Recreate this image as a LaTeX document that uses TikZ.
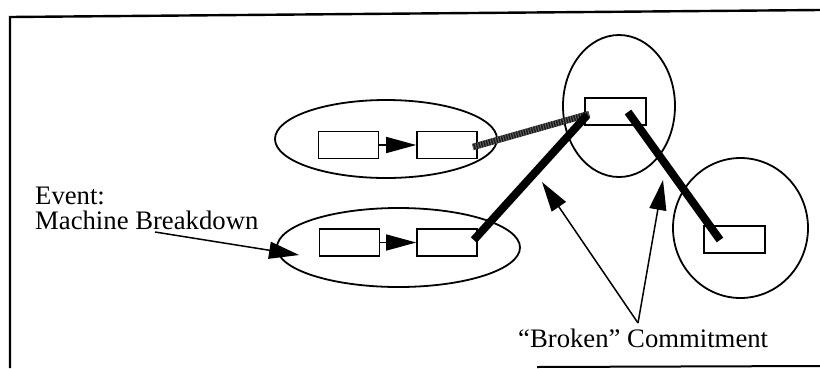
\documentclass[tikz,border=0pt]{standalone}
\usepackage{fontspec}
\setmainfont{Liberation Serif}
\usetikzlibrary{shapes.geometric,arrows.meta}
\begin{document}
\begin{tikzpicture}[x=1pt,y=-1pt,
  group/.style={draw, ellipse, line width=1.8pt, inner sep=0pt},
  task/.style={draw, rectangle, line width=1.6pt, fill=white,
    minimum width=60pt, minimum height=27pt, inner sep=0pt},
  prec/.style={line width=1.5pt, -{Triangle[length=30pt,width=16pt]}},
  commit/.style={line width=8pt, line cap=butt},
  broken/.style={line width=6.5pt, line cap=butt, black!90},
  brokentex/.style={line width=6.5pt, line cap=butt, white, opacity=0.3,
    dash pattern=on 1pt off 1.6pt},
  callout/.style={line width=1.5pt, -{Triangle[length=30pt,width=17pt]}},
  lbl/.style={font=\fontsize{26.7}{24}\selectfont, inner sep=0pt},
  frame/.style={line width=2.4pt}
]
\useasboundingbox (0,0) rectangle (820,368);

% outer frame
\draw[frame] (820,10) -- (10,17) -- (10,368);
\draw[line width=2pt] (537,367) -- (820,366);

% groups of tasks
\node[group, minimum width=222pt, minimum height=78pt] (el1) at (386,139) {};
\node[group, minimum width=243pt, minimum height=79pt] (el2) at (398.5,247.5) {};
\node[group, minimum width=112pt, minimum height=142pt] (el3) at (619,106) {};
\node[group, minimum width=135pt, minimum height=140pt] (el4) at (740.5,228) {};

% tasks
\node[task] (a1) at (348.5,145) {};
\node[task] (a2) at (447,145) {};
\node[task] (b1) at (349.5,242.5) {};
\node[task] (b2) at (447,242.5) {};
\node[task, minimum width=61pt] (c1) at (615.5,111.5) {};
\node[task, minimum width=61pt] (d1) at (734.5,239.5) {};

% precedence inside the groups
\draw[prec] (a1) -- (a2);
\draw[prec] (b1) -- (b2);

% commitments between groups
\draw[broken] ([xshift=-5pt,yshift=-2pt]a2.east) -- ([xshift=5pt,yshift=-2.5pt]c1.west);
\draw[brokentex] ([xshift=-5pt,yshift=-2pt]a2.east) -- ([xshift=5pt,yshift=-2.5pt]c1.west);
\draw[commit] ([xshift=-4pt,yshift=2.5pt]b2.east) -- ([xshift=3pt,yshift=-3.5pt]c1.west);
\draw[commit] ([xshift=12.5pt,yshift=-0.5pt]c1.center) -- ([xshift=-14.5pt,yshift=-0.5pt]d1.center);

% labels
\node[lbl, anchor=base west] (evt1) at (35,204) {Event:};
\node[lbl, anchor=base west] (evt2) at (35,229) {Machine Breakdown};
\node[lbl, anchor=base west] (bc) at (518,347) {``Broken'' Commitment};

% callout arrows
\coordinate (apex) at (638,323);
\coordinate (tipL) at (542,182);
\coordinate (tipR) at (663,180);
\draw[callout] ([xshift=120pt,yshift=-3pt]evt2.base west) -- ([xshift=23pt,yshift=-7.5pt]el2.west);
\draw[callout] (apex) -- (tipL);
\draw[callout] (apex) -- (tipR);
\end{tikzpicture}
\end{document}
